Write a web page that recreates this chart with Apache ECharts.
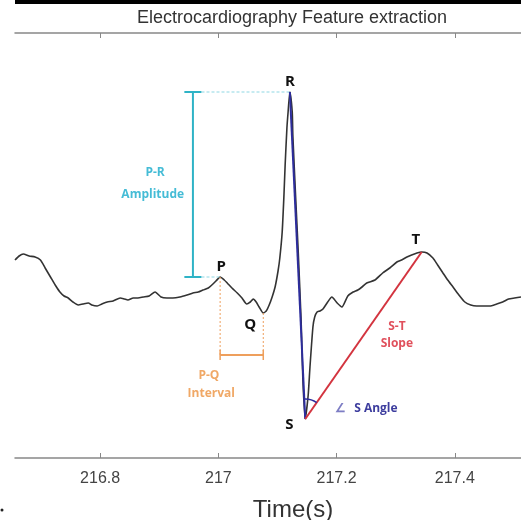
<!DOCTYPE html>
<html><head><meta charset="utf-8">
<script src="https://cdn.jsdelivr.net/npm/echarts@6/dist/echarts.min.js"></script>
<style>html,body{margin:0;padding:0;background:#fff}#c{width:521px;height:520px}</style>
</head><body><div id="c"></div>
<script>
// ECG trace: time (s) and amplitude (mV, relative to baseline)
const timeS = [216.656,216.663,216.670,216.680,216.690,216.699,216.707,216.716,216.724,216.732,216.739,216.746,216.754,216.763,216.771,216.780,216.786,216.795,216.803,216.812,216.822,216.834,216.841,216.847,216.856,216.864,216.873,216.883,216.893,216.903,216.913,216.923,216.935,216.947,216.957,216.966,216.974,216.983,216.989,216.996,217.003,217.010,217.015,217.023,217.032,217.040,217.048,217.054,217.059,217.064,217.069,217.076,217.081,217.086,217.091,217.096,217.101,217.104,217.108,217.111,217.113,217.116,217.118,217.121,217.125,217.126,217.131,217.135,217.140,217.143,217.147,217.152,217.155,217.160,217.163,217.167,217.172,217.177,217.185,217.192,217.201,217.209,217.219,217.228,217.236,217.243,217.251,217.265,217.278,217.290,217.302,217.310,217.319,217.327,217.336,217.344,217.353,217.363,217.371,217.380,217.388,217.397,217.407,217.417,217.427,217.437,217.449,217.459,217.471,217.481,217.491,217.501,217.512];
const ecgMv = [0.160,0.176,0.184,0.176,0.172,0.160,0.128,0.092,0.060,0.032,0.016,0.008,-0.008,-0.020,-0.016,-0.012,-0.020,-0.024,-0.016,-0.008,-0.004,0.008,0.004,0.000,0.008,0.008,0.012,0.016,0.032,0.012,0.008,0.008,0.012,0.020,0.028,0.032,0.040,0.048,0.060,0.076,0.092,0.080,0.068,0.048,0.028,0.008,-0.016,-0.008,0.004,-0.008,-0.028,-0.052,-0.044,-0.020,0.012,0.052,0.116,0.168,0.272,0.420,0.540,0.688,0.752,0.832,0.752,0.660,0.400,0.200,-0.080,-0.320,-0.476,-0.380,-0.268,-0.108,-0.068,-0.048,-0.044,-0.036,-0.008,0.012,-0.012,-0.028,0.016,0.032,0.040,0.052,0.068,0.080,0.108,0.128,0.152,0.160,0.172,0.180,0.188,0.192,0.188,0.168,0.140,0.108,0.080,0.052,0.020,-0.008,-0.020,-0.024,-0.024,-0.024,-0.016,-0.008,0.004,0.008,0.012];

const tickValues = [216.8, 217, 217.2, 217.4];
const tickLabels = ['216.8', '217', '217.2', '217.4'];

// Characteristic points
const featureNames = ['P', 'Q', 'R', 'S', 'T'];
const featureTimes = [217.003, 217.076, 217.121, 217.147, 217.344];
const featureMv = [0.092, -0.052, 0.832, -0.476, 0.192];

const X_MIN = 216.656, X_MAX = 217.512, Y_MIN = -0.632, Y_MAX = 1.068;

const pt = n => { const i = featureNames.indexOf(n); return [featureTimes[i], featureMv[i]]; };
const P = pt('P'), Q = pt('Q'), R = pt('R'), S = pt('S'), T = pt('T');

const ecgData = timeS.map((t, i) => [t, ecgMv[i]]);

// annotation geometry (data units)
const ampT = 216.957, capHalf = 0.0145;
const intLevel = -0.22, intDrop = -0.228, intCap = 0.02;

const CYAN = '#2fb3c6', CYAN_L = '#8fd8e4', ORANGE = '#ee9f5c', RED = '#d3343f', BLUE = '#2d2d9c';

function seg(data, color, width, type, z) {
  return { type: 'line', data, symbol: 'none', silent: true, z: z || 3,
    lineStyle: { color, width, type: type || 'solid' }, animation: false };
}

const labels = [
  { t: 217.121, v: 0.874, text: 'R', color: '#111', font: 'bold 15px "Open Sans"' },
  { t: 217.005, v: 0.134, text: 'P', color: '#111', font: 'bold 15px "Open Sans"' },
  { t: 217.054, v: -0.100, text: 'Q', color: '#111', font: 'bold 15px "Open Sans"' },
  { t: 217.120, v: -0.498, text: 'S', color: '#111', font: 'bold 15px "Open Sans"' },
  { t: 217.334, v: 0.240, text: 'T', color: '#111', font: 'bold 15px "Open Sans"' },
  { t: 216.893, v: 0.508, text: 'P-R', color: '#45bcd6', font: 'bold 12px "Open Sans"' },
  { t: 216.889, v: 0.420, text: 'Amplitude', color: '#45bcd6', font: 'bold 12px "Open Sans"' },
  { t: 216.984, v: -0.304, text: 'P-Q', color: '#f0a866', font: 'bold 12px "Open Sans"' },
  { t: 216.988, v: -0.376, text: 'Interval', color: '#f0a866', font: 'bold 12px "Open Sans"' },
  { t: 217.302, v: -0.108, text: 'S-T', color: '#e0505c', font: 'bold 12px "Open Sans"' },
  { t: 217.302, v: -0.176, text: 'Slope', color: '#e0505c', font: 'bold 12px "Open Sans"' },
  { t: 217.207, v: -0.436, text: '∠', color: '#7d7dc4', font: 'bold 12px "Open Sans"' },
  { t: 217.2665, v: -0.436, text: 'S Angle', color: '#3d3d9e', font: 'bold 12px "Open Sans"' }
];

const chart = echarts.init(document.getElementById('c'), null, { renderer: 'canvas' });
const axisCommon = {
  type: 'value', min: X_MIN, max: X_MAX,
  axisLine: { show: true, onZero: false, lineStyle: { color: '#888', width: 1.5 } },
  axisTick: { show: true, inside: true, length: 5, customValues: tickValues, lineStyle: { color: '#888', width: 1 } },
  splitLine: { show: false }
};

chart.setOption({
  animation: false,
  backgroundColor: '#fff',
  grid: { left: 15, right: 0, top: 33, bottom: 62, containLabel: false },
  xAxis: [
    Object.assign({}, axisCommon, { position: 'bottom',
      axisLabel: { show: true, customValues: tickValues, margin: 13, color: '#444', fontSize: 16, fontFamily: 'Liberation Sans, Arial',
        formatter: v => tickLabels[tickValues.findIndex(x => Math.abs(x - v) < 1e-6)] } }),
    Object.assign({}, axisCommon, { position: 'top', axisLabel: { show: false } })
  ],
  yAxis: { type: 'value', min: Y_MIN, max: Y_MAX, show: false },
  graphic: [
    { type: 'rect', shape: { x: 15, y: 0, width: 506, height: 4 }, style: { fill: '#000' } },
    { type: 'text', x: 292, y: 18, style: { text: 'Electrocardiography Feature extraction', font: '18px "Liberation Sans", Arial', fill: '#333', align: 'center', verticalAlign: 'middle' } },
    { type: 'text', x: 293, y: 510, style: { text: 'Time(s)', font: '24px "Liberation Sans", Arial', fill: '#333', align: 'center', verticalAlign: 'middle' } },
    { type: 'circle', shape: { cx: 2, cy: 510, r: 1.5 }, style: { fill: '#222' } }
  ],
  series: [
    { type: 'line', data: ecgData, symbol: 'none', smooth: 0.2, z: 2,
      lineStyle: { color: '#333', width: 1.6 } },
    // P-R amplitude
    seg([[ampT, P[1]], [ampT, R[1]]], CYAN, 2),
    seg([[ampT - capHalf, R[1]], [ampT + capHalf, R[1]]], CYAN, 2),
    seg([[ampT - capHalf, P[1]], [ampT + capHalf, P[1]]], CYAN, 2),
    seg([[ampT + capHalf, R[1]], [R[0], R[1]]], CYAN_L, 1.2, [3, 2]),
    seg([[ampT + capHalf, P[1]], [P[0], P[1]]], CYAN_L, 1.2, [3, 2]),
    // P-Q interval
    seg([[P[0], P[1]], [P[0], intDrop]], ORANGE, 1, [2, 2]),
    seg([[Q[0], Q[1]], [Q[0], intDrop]], ORANGE, 1, [2, 2]),
    seg([[P[0], intLevel], [Q[0], intLevel]], ORANGE, 2),
    seg([[P[0], intLevel + intCap], [P[0], intLevel - intCap]], ORANGE, 1.5),
    seg([[Q[0], intLevel + intCap], [Q[0], intLevel - intCap]], ORANGE, 1.5),
    // R-S and S-T lines
    seg([R, S], BLUE, 2, 'solid', 4),
    seg([S, T], RED, 2, 'solid', 4),
    // S angle arc
    { type: 'custom', silent: true, z: 5, data: [[S[0], S[1]]],
      renderItem: (params, api) => {
        const s = api.coord(S), r = api.coord(R), t = api.coord(T);
        const a1 = Math.atan2(r[1] - s[1], r[0] - s[0]);
        const a2 = Math.atan2(t[1] - s[1], t[0] - s[0]);
        return { type: 'arc', shape: { cx: s[0], cy: s[1], r: 20, startAngle: a1, endAngle: a2, clockwise: true },
          style: { stroke: BLUE, lineWidth: 1.5, fill: null } };
      } },
    // text annotations
    { type: 'custom', silent: true, z: 6, data: labels.map(l => [l.t, l.v]),
      renderItem: (params, api) => {
        const l = labels[params.dataIndex];
        const p = api.coord([l.t, l.v]);
        return { type: 'text', x: p[0], y: p[1],
          style: { text: l.text, fill: l.color, font: l.font, align: 'center', verticalAlign: 'middle' } };
      } }
  ]
});
</script>
</body></html>
